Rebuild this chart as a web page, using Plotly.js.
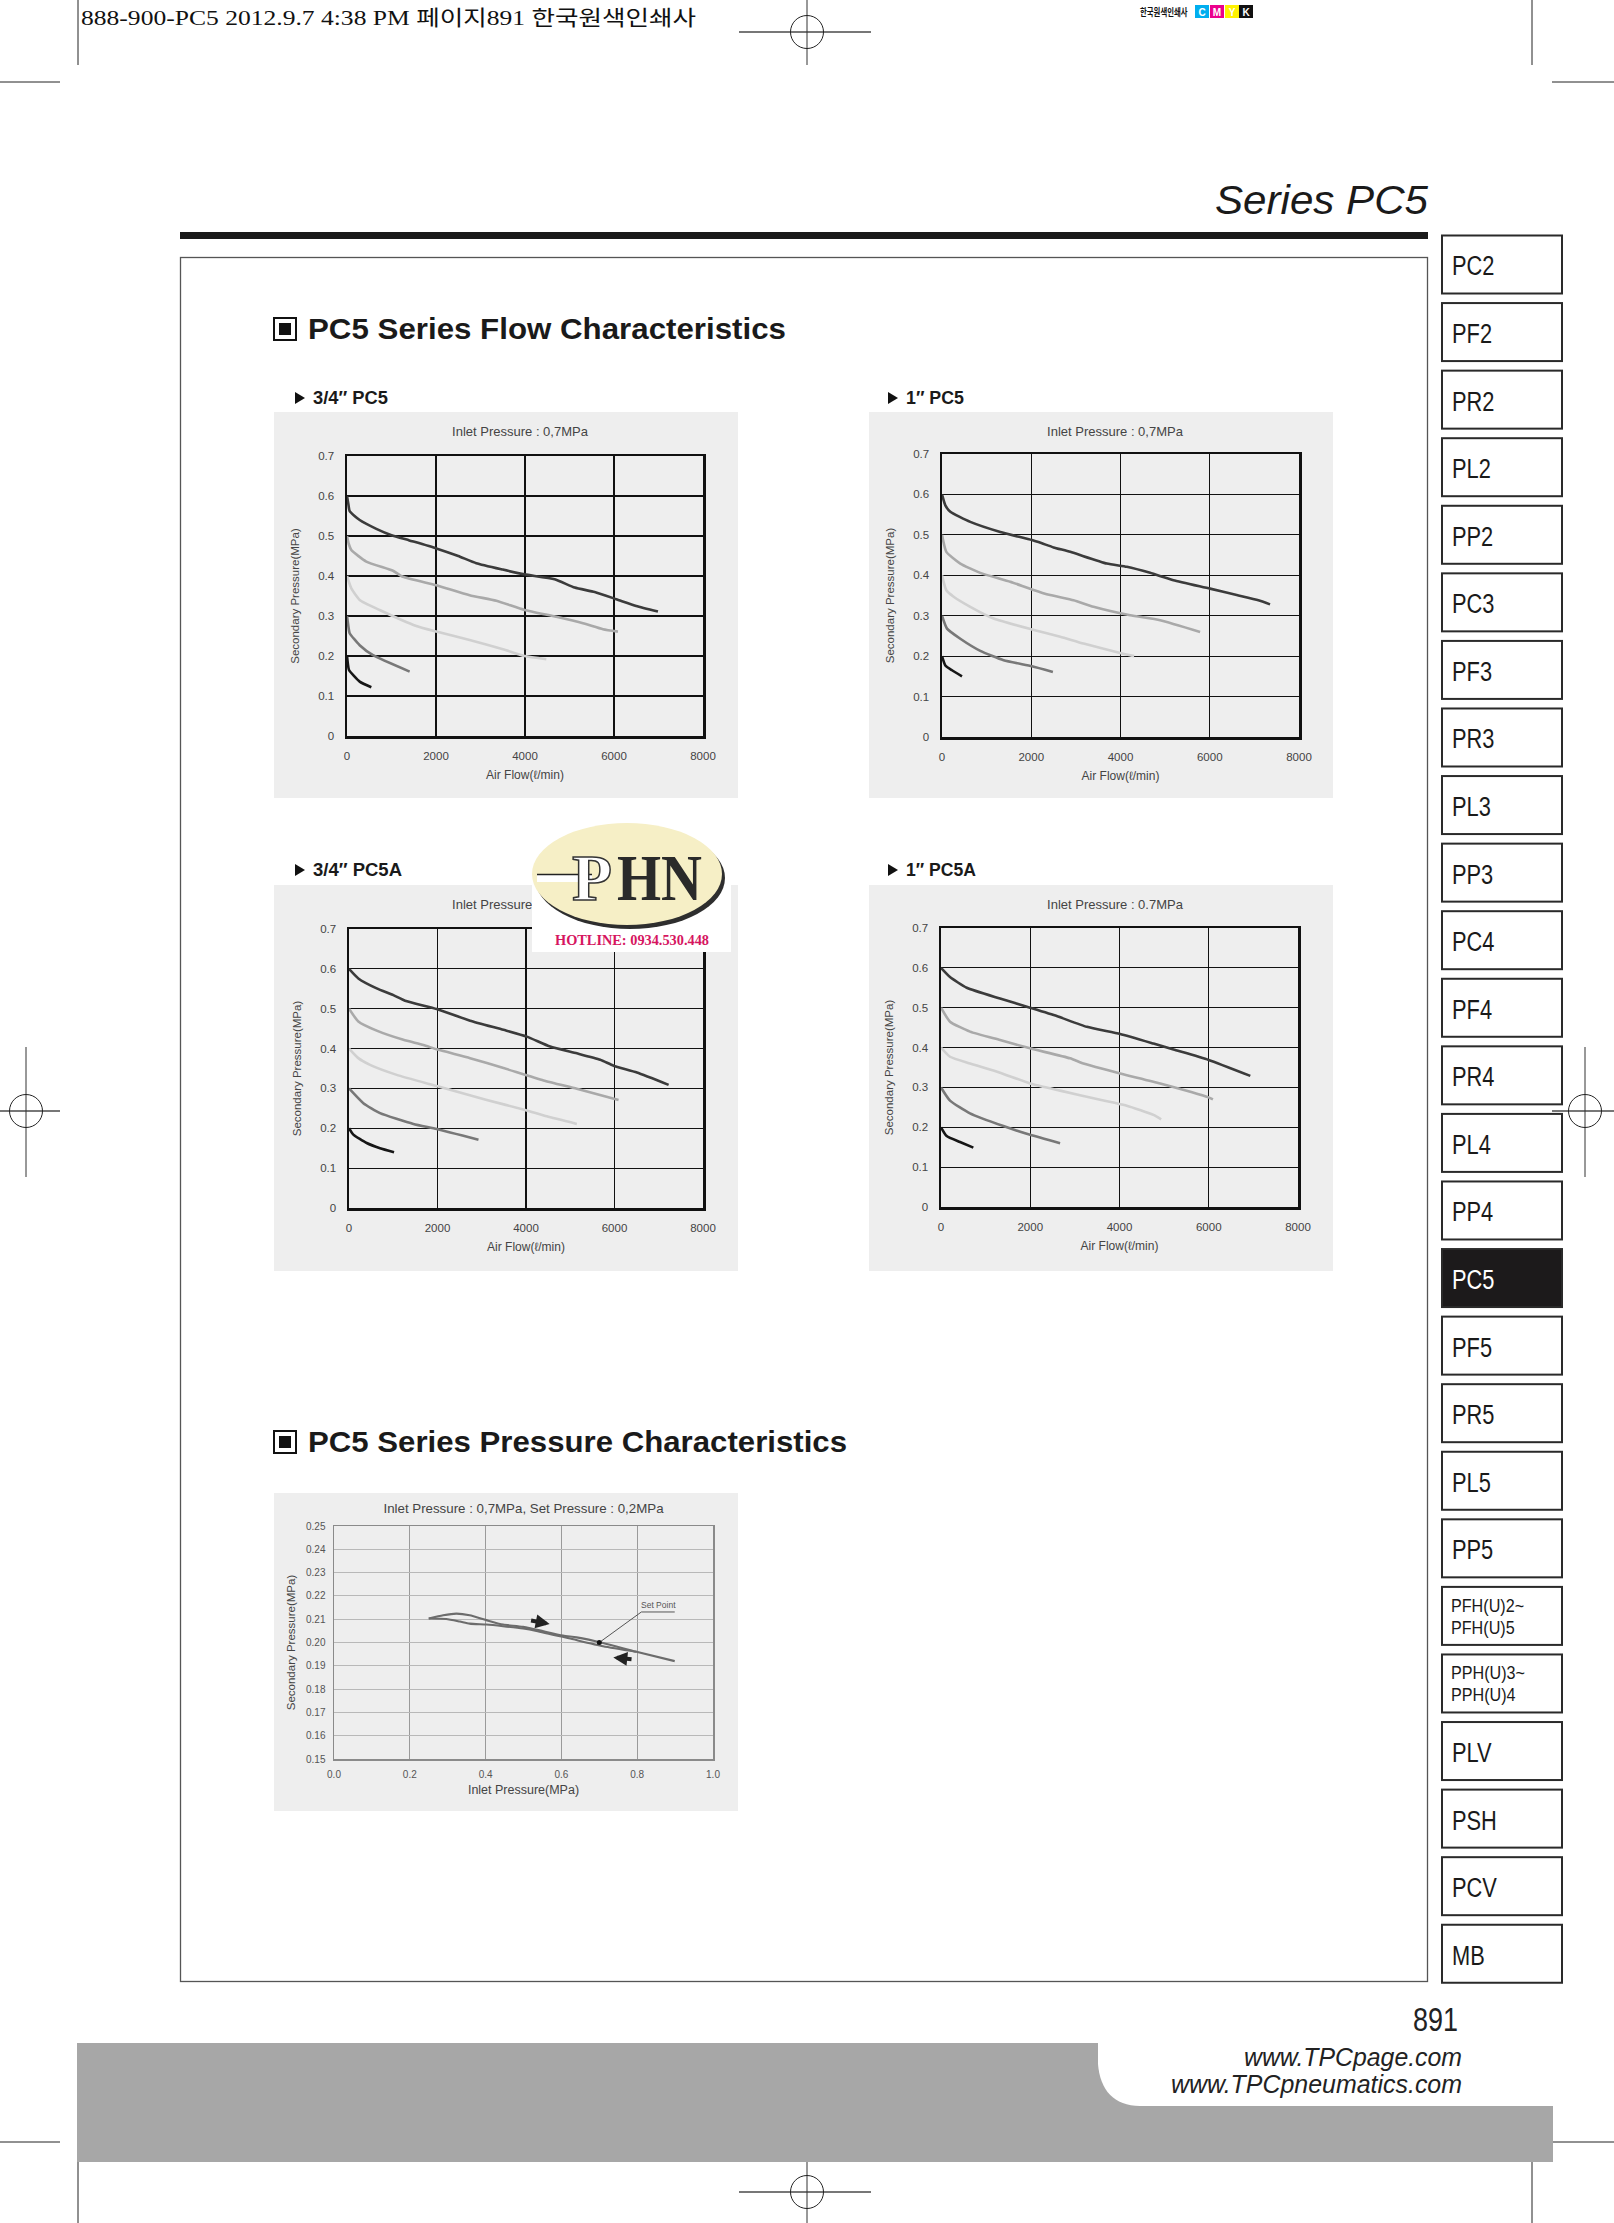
<!DOCTYPE html>
<html><head><meta charset="utf-8">
<script src="https://cdn.plot.ly/plotly-3.0.1.min.js"></script>
<style>
body{margin:0;background:#fff;}
#page{position:relative;width:1614px;height:2223px;overflow:hidden;background:#fff;font-family:"Liberation Sans",Arial,sans-serif;}
.chart{position:absolute;}
svg.ov{position:absolute;left:0;top:0;}
</style></head><body><div id="page">
<svg class="ov" id="deco" width="1614" height="2223"></svg>
<div id="c1" class="chart" style="left:274px;top:412px;width:464px;height:386px"></div>
<div id="c2" class="chart" style="left:869px;top:412px;width:464px;height:386px"></div>
<div id="c3" class="chart" style="left:274px;top:885px;width:464px;height:386px"></div>
<div id="c4" class="chart" style="left:869px;top:885px;width:464px;height:386px"></div>
<div id="c5" class="chart" style="left:274px;top:1493px;width:464px;height:318px"></div>
<svg class="ov" id="logo" width="1614" height="2223" style="pointer-events:none"></svg>
</div>
<script>
// ---------------- DATA ----------------
const curveNames = ['0.6 MPa', '0.5 MPa', '0.4 MPa', '0.3 MPa', '0.2 MPa'];
const flowTicks = [0, 2000, 4000, 6000, 8000];

// 3/4" PC5
const pc5_34_flow = [
  [0, 30, 60, 285, 659, 1000, 1400, 2007, 2500, 2906, 3500, 3992, 4666, 5116, 5565, 6052, 6500, 6988],
  [0, 40, 97, 434, 1034, 1258, 2007, 2756, 3356, 3992, 4703, 5303, 5752, 6089],
  [0, 97, 285, 734, 1558, 2007, 2756, 3505, 3992, 4479],
  [0, 30, 60, 285, 584, 1408],
  [0, 20, 45, 285, 547]
];
const pc5_34_pres = [
  [0.60, 0.58, 0.562, 0.540, 0.518, 0.502, 0.489, 0.469, 0.450, 0.432, 0.416, 0.404, 0.392, 0.371, 0.360, 0.342, 0.325, 0.311],
  [0.50, 0.48, 0.465, 0.436, 0.413, 0.398, 0.377, 0.352, 0.338, 0.315, 0.298, 0.282, 0.267, 0.261],
  [0.40, 0.369, 0.340, 0.315, 0.275, 0.261, 0.240, 0.217, 0.200, 0.192],
  [0.30, 0.275, 0.257, 0.227, 0.202, 0.161],
  [0.20, 0.18, 0.165, 0.136, 0.122]
];
// 1" PC5
const pc5_1_flow = [
  [0, 75, 187, 634, 1306, 2015, 2239, 2500, 2873, 3694, 4142, 4664, 5187, 6007, 6604, 7090, 7351],
  [0, 97, 410, 858, 1530, 2015, 2425, 2948, 3396, 4216, 4888, 5784],
  [0, 97, 261, 634, 1157, 2015, 2649, 3172, 3993, 4306],
  [0, 112, 410, 858, 1381, 2015, 2485],
  [0, 75, 224, 448]
];
const pc5_1_pres = [
  [0.60, 0.573, 0.557, 0.532, 0.507, 0.487, 0.479, 0.469, 0.458, 0.429, 0.421, 0.406, 0.388, 0.367, 0.351, 0.338, 0.328],
  [0.50, 0.458, 0.429, 0.406, 0.384, 0.365, 0.351, 0.338, 0.322, 0.301, 0.289, 0.260],
  [0.40, 0.363, 0.347, 0.322, 0.293, 0.266, 0.248, 0.231, 0.208, 0.200],
  [0.30, 0.268, 0.243, 0.213, 0.190, 0.175, 0.161],
  [0.20, 0.177, 0.165, 0.150]
];
// 3/4" PC5A
const pc5a_34_flow = [
  [0, 211, 626, 1003, 1267, 1983, 2737, 3491, 4018, 4546, 5149, 5677, 5979, 6507, 7223],
  [0, 211, 626, 1229, 1682, 1983, 2737, 3491, 4396, 5149, 6092],
  [0, 211, 475, 1078, 1983, 3114, 3981, 4471, 5149],
  [0, 324, 701, 1455, 1983, 2926],
  [0, 98, 400, 701, 1018]
];
const pc5a_34_pres = [
  [0.60, 0.576, 0.551, 0.534, 0.520, 0.499, 0.470, 0.447, 0.430, 0.405, 0.388, 0.372, 0.357, 0.340, 0.309],
  [0.50, 0.468, 0.445, 0.422, 0.409, 0.398, 0.376, 0.351, 0.320, 0.299, 0.271],
  [0.40, 0.376, 0.359, 0.334, 0.306, 0.271, 0.246, 0.230, 0.211],
  [0.30, 0.263, 0.238, 0.211, 0.198, 0.171],
  [0.20, 0.184, 0.163, 0.150, 0.140]
];
// 1" PC5A
const pc5a_1_flow = [
  [0, 202, 576, 1323, 1996, 2594, 3267, 4015, 4762, 5211, 5997, 6931],
  [0, 202, 650, 1323, 1996, 2893, 3192, 4015, 4912, 5997, 6094],
  [0, 202, 650, 1323, 1996, 2669, 3566, 4164, 4762, 4934],
  [0, 202, 650, 1398, 1996, 2669],
  [0, 127, 426, 725]
];
const pc5a_1_pres = [
  [0.60, 0.577, 0.550, 0.523, 0.500, 0.479, 0.452, 0.434, 0.410, 0.395, 0.369, 0.329],
  [0.50, 0.465, 0.440, 0.419, 0.398, 0.373, 0.360, 0.335, 0.310, 0.275, 0.270],
  [0.40, 0.377, 0.360, 0.337, 0.310, 0.292, 0.269, 0.254, 0.231, 0.220],
  [0.30, 0.267, 0.235, 0.203, 0.181, 0.160],
  [0.20, 0.178, 0.163, 0.149]
];
// Pressure characteristics
const inletUp = [0.25, 0.288, 0.323, 0.358, 0.402, 0.446, 0.499, 0.604, 0.64, 0.71, 0.798, 0.899];
const secUp   = [0.2103, 0.2117, 0.2124, 0.2117, 0.2096, 0.2077, 0.2067, 0.2030, 0.2022, 0.1998, 0.1960, 0.1920];
const inletDown = [0.798, 0.71, 0.62, 0.534, 0.499, 0.446, 0.402, 0.358, 0.332, 0.296, 0.25];
const secDown   = [0.1960, 0.1984, 0.2018, 0.2050, 0.2060, 0.2070, 0.2077, 0.2081, 0.2090, 0.2101, 0.2103];
const setPoint = [0.70, 0.200];
const setPointLeader = {x: [0.70, 0.811, 0.899], y: [0.200, 0.2131, 0.2131]};
const setPointLabel = {x: 0.857, y: 0.2163, text: 'Set Point'};
const arrowUp = {tail: [0.516, 0.2096], head: [0.569, 0.2079]};
const arrowDown = {tail: [0.789, 0.1927], head: [0.737, 0.1936]};

const tabLabels = ['PC2','PF2','PR2','PL2','PP2','PC3','PF3','PR3','PL3','PP3','PC4','PF4','PR4','PL4','PP4','PC5','PF5','PR5','PL5','PP5','PFH(U)2~|PFH(U)5','PPH(U)3~|PPH(U)4','PLV','PSH','PCV','MB'];
const activeTab = 'PC5';

// ---------------- STYLE ----------------
const FONT = '"Liberation Sans", Arial, sans-serif';
const curveColors = ['#3b3b3b', '#a9a9a9', '#d0d0d0', '#787878', '#161616'];
const PANEL = '#eeeeee';

function flowChart(id, xs, ys, m, title) {
  const traces = xs.map((x, i) => ({
    x: x, y: ys[i], name: curveNames[i], mode: 'lines', hoverinfo: 'skip',
    line: {color: curveColors[i], width: 2.6, shape: 'spline', smoothing: 0.5}
  }));
  const axBase = {
    showgrid: true, gridcolor: '#111', gridwidth: 1.2, showline: true, linecolor: '#111',
    linewidth: 2.5, mirror: true, zeroline: false, ticks: 'outside', ticklen: 8,
    tickcolor: 'rgba(0,0,0,0)', tickfont: {family: FONT, size: 11.5, color: '#444'}, fixedrange: true
  };
  const layout = {
    width: 464, height: 386, margin: m, paper_bgcolor: PANEL, plot_bgcolor: PANEL, showlegend: false,
    title: {text: title, font: {family: FONT, size: 13, color: '#444'}, xref: 'container', x: 246/464,
            xanchor: 'center', yref: 'container', y: 1 - 19/386, yanchor: 'middle'},
    xaxis: Object.assign({}, axBase, {range: [0, 8000], tickvals: flowTicks, tickformat: 'd',
      title: {text: 'Air Flow(ℓ/min)', font: {family: FONT, size: 12, color: '#444'}, standoff: 10}}),
    yaxis: Object.assign({}, axBase, {range: [0, 0.7], tick0: 0, dtick: 0.1,
      title: {text: 'Secondary Pressure(MPa)', font: {family: FONT, size: 11.5, color: '#444'}, standoff: 16}})
  };
  Plotly.newPlot(id, traces, layout, {staticPlot: true, displayModeBar: false});
}

flowChart('c1', pc5_34_flow, pc5_34_pres, {l: 73, r: 35, t: 44, b: 62}, 'Inlet Pressure : 0,7MPa');
flowChart('c2', pc5_1_flow, pc5_1_pres, {l: 73, r: 34, t: 42, b: 61}, 'Inlet Pressure : 0,7MPa');
flowChart('c3', pc5a_34_flow, pc5a_34_pres, {l: 75, r: 35, t: 44, b: 63}, 'Inlet Pressure : 0,7MPa');
flowChart('c4', pc5a_1_flow, pc5a_1_pres, {l: 72, r: 35, t: 43, b: 64}, 'Inlet Pressure : 0.7MPa');

(function pressureChart() {
  const lineC = '#6c6c6c';
  const traces = [
    {x: inletUp, y: secUp, mode: 'lines', hoverinfo: 'skip', line: {color: lineC, width: 2.1, shape: 'spline', smoothing: 0.6}},
    {x: inletDown, y: secDown, mode: 'lines', hoverinfo: 'skip', line: {color: lineC, width: 2.1, shape: 'spline', smoothing: 0.6}},
    {x: setPointLeader.x, y: setPointLeader.y, mode: 'lines', hoverinfo: 'skip', line: {color: '#555', width: 1}},
    {x: [setPoint[0]], y: [setPoint[1]], mode: 'markers', hoverinfo: 'skip', marker: {color: '#111', size: 5}}
  ];
  const axBase = {
    showline: true, linecolor: '#8a8a8a', linewidth: 1.5, mirror: true, zeroline: false,
    ticks: 'outside', ticklen: 5, tickcolor: 'rgba(0,0,0,0)',
    tickfont: {family: FONT, size: 10, color: '#555'}, fixedrange: true, showgrid: true
  };
  const arrow = (a) => ({x: a.head[0], y: a.head[1], ax: a.tail[0], ay: a.tail[1], axref: 'x', ayref: 'y',
    xref: 'x', yref: 'y', text: '', showarrow: true, arrowhead: 2, arrowsize: 0.7, arrowwidth: 4, arrowcolor: '#222'});
  const layout = {
    width: 464, height: 318, margin: {l: 60, r: 25, t: 33, b: 52}, paper_bgcolor: PANEL, plot_bgcolor: PANEL,
    showlegend: false,
    title: {text: 'Inlet Pressure : 0,7MPa, Set Pressure : 0,2MPa', font: {family: FONT, size: 13.3, color: '#444'},
            xref: 'paper', x: 0.5, xanchor: 'center', yref: 'container', y: 1 - 15/318, yanchor: 'middle'},
    xaxis: Object.assign({}, axBase, {range: [0, 1], tick0: 0, dtick: 0.2, tickformat: '.1f',
      gridcolor: '#9a9a9a', gridwidth: 1.2,
      title: {text: 'Inlet Pressure(MPa)', font: {family: FONT, size: 12.5, color: '#444'}, standoff: 6}}),
    yaxis: Object.assign({}, axBase, {range: [0.15, 0.25], tick0: 0.15, dtick: 0.01, tickformat: '.2f',
      gridcolor: '#b8b8b8', gridwidth: 1,
      title: {text: 'Secondary Pressure(MPa)', font: {family: FONT, size: 11.5, color: '#444'}, standoff: 8}}),
    annotations: [
      arrow(arrowUp), arrow(arrowDown),
      {x: setPointLabel.x, y: setPointLabel.y, xref: 'x', yref: 'y', text: setPointLabel.text, showarrow: false,
       font: {family: FONT, size: 8.5, color: '#555'}}
    ]
  };
  Plotly.newPlot('c5', traces, layout, {staticPlot: true, displayModeBar: false});
})();

// ---------------- PAGE DECORATION ----------------
const NS = 'http://www.w3.org/2000/svg';
function el(parent, tag, attrs, text) {
  const e = document.createElementNS(NS, tag);
  for (const k in attrs) e.setAttribute(k, attrs[k]);
  if (text !== undefined) e.textContent = text;
  parent.appendChild(e);
  return e;
}
const deco = document.getElementById('deco');

// crop marks
[[78,0,78,65],[1532,0,1532,65],[0,82,60,82],[1552,82,1614,82],
 [78,2160,78,2223],[1532,2160,1532,2223],[0,2142,60,2142],[1552,2142,1614,2142]].forEach(l =>
  el(deco, 'line', {x1: l[0], y1: l[1], x2: l[2], y2: l[3], stroke: '#222', 'stroke-width': 1}));
// registration marks
function reg(cx, cy, hx1, hx2, vy1, vy2) {
  el(deco, 'line', {x1: hx1, y1: cy, x2: hx2, y2: cy, stroke: '#777', 'stroke-width': 2});
  el(deco, 'line', {x1: cx, y1: vy1, x2: cx, y2: vy2, stroke: '#333', 'stroke-width': 1});
  el(deco, 'circle', {cx: cx, cy: cy, r: 16.5, fill: 'none', stroke: '#222', 'stroke-width': 1});
}
reg(807, 32, 739, 871, 0, 65);
reg(807, 2192, 739, 871, 2160, 2223);
reg(26, 1111, 0, 60, 1047, 1177);
reg(1585, 1111, 1552, 1614, 1047, 1177);

// top slug text
el(deco, 'text', {x: 81, y: 25, 'font-family': '"Liberation Serif","Noto Sans CJK KR",serif', 'font-size': 21,
  fill: '#111', textLength: 615, lengthAdjust: 'spacingAndGlyphs'}, '888-900-PC5  2012.9.7 4:38 PM  페이지891   한국원색인쇄사');
// CMYK mark
el(deco, 'text', {x: 0, y: 0, transform: 'translate(1140,16) scale(1,1.35)', 'font-family': '"Noto Sans CJK KR",sans-serif',
  'font-size': 7.4, 'font-weight': 'bold', fill: '#111'}, '한국원색인쇄사');
[['C','#00aeef',1195],['M','#ec008c',1210],['Y','#fff200',1225],['K','#111111',1239]].forEach(c => {
  el(deco, 'rect', {x: c[2], y: 5, width: 14, height: 13, fill: c[1]});
  el(deco, 'text', {x: c[2] + 7, y: 15.5, 'text-anchor': 'middle', 'font-family': FONT, 'font-size': 10,
    'font-weight': 'bold', fill: '#fff'}, c[0]);
});

// Series title + bar + frame
el(deco, 'text', {x: 1215, y: 214, 'font-family': FONT, 'font-size': 40, 'font-style': 'italic', fill: '#1a1a1a',
  textLength: 213, lengthAdjust: 'spacingAndGlyphs'}, 'Series PC5');
el(deco, 'rect', {x: 180, y: 232, width: 1248, height: 7, fill: '#1a1a1a'});
el(deco, 'rect', {x: 180.5, y: 257.5, width: 1247, height: 1724, fill: 'none', stroke: '#555', 'stroke-width': 1.3});

// section headings
function heading(y, text, w) {
  el(deco, 'rect', {x: 274, y: y - 21, width: 22, height: 22, fill: '#fff', stroke: '#111', 'stroke-width': 2});
  el(deco, 'rect', {x: 279, y: y - 16, width: 12, height: 12, fill: '#111'});
  el(deco, 'text', {x: 308, y: y, 'font-family': FONT, 'font-size': 30, 'font-weight': 'bold', fill: '#1a1a1a',
    textLength: w, lengthAdjust: 'spacingAndGlyphs'}, text);
}
heading(339, 'PC5 Series Flow Characteristics', 478);
heading(1452, 'PC5 Series Pressure Characteristics', 539);

function sub(x, y, text, w) {
  el(deco, 'polygon', {points: `${x},${y-12} ${x+10},${y-6} ${x},${y}`, fill: '#111'});
  el(deco, 'text', {x: x + 18, y: y, 'font-family': FONT, 'font-size': 18, 'font-weight': 'bold', fill: '#1a1a1a',
    textLength: w, lengthAdjust: 'spacingAndGlyphs'}, text);
}
sub(295, 404, '3/4″ PC5', 75);
sub(888, 404, '1″ PC5', 58);
sub(295, 876, '3/4″ PC5A', 89);
sub(888, 876, '1″ PC5A', 70);

// tabs
tabLabels.forEach((lab, i) => {
  const y = 235.5 + i * 67.57;
  const act = lab === activeTab;
  el(deco, 'rect', {x: 1442, y: y, width: 120, height: 58, fill: act ? '#1c1a1b' : '#fff', stroke: '#2a2a2a', 'stroke-width': 2});
  const col = act ? '#fff' : '#1a1a1a';
  const parts = lab.split('|');
  if (parts.length === 1) {
    el(deco, 'text', {x: 1452 / 0.78, y: y + 40, transform: 'scale(0.78,1)', 'font-family': FONT, 'font-size': 28, fill: col}, lab);
  } else {
    el(deco, 'text', {x: 1451 / 0.85, y: y + 25, transform: 'scale(0.85,1)', 'font-family': FONT, 'font-size': 19, fill: col}, parts[0]);
    el(deco, 'text', {x: 1451 / 0.85, y: y + 47, transform: 'scale(0.85,1)', 'font-family': FONT, 'font-size': 19, fill: col}, parts[1]);
  }
});

// footer
el(deco, 'text', {x: 1413, y: 2031, 'font-family': FONT, 'font-size': 34, fill: '#222', textLength: 45,
  lengthAdjust: 'spacingAndGlyphs'}, '891');
el(deco, 'rect', {x: 77, y: 2043, width: 1476, height: 119, fill: '#a7a7a7'});
el(deco, 'path', {d: 'M1098 2043 H1553 V2106 H1140 C1114 2106 1100 2090 1098 2064 Z', fill: '#fff'});
el(deco, 'text', {x: 1244, y: 2066, 'font-family': FONT, 'font-size': 25, 'font-style': 'italic', fill: '#222',
  textLength: 218, lengthAdjust: 'spacingAndGlyphs'}, 'www.TPCpage.com');
el(deco, 'text', {x: 1171, y: 2093, 'font-family': FONT, 'font-size': 25, 'font-style': 'italic', fill: '#222',
  textLength: 291, lengthAdjust: 'spacingAndGlyphs'}, 'www.TPCpneumatics.com');

// watermark logo
const logo = document.getElementById('logo');
el(logo, 'rect', {x: 532, y: 826, width: 199, height: 126, fill: '#fff'});
el(logo, 'ellipse', {cx: 630, cy: 878, rx: 95, ry: 51, fill: '#2e2e2e'});
el(logo, 'ellipse', {cx: 627, cy: 874, rx: 95, ry: 51, fill: '#f6efc6'});
el(logo, 'rect', {x: 537, y: 874, width: 55, height: 8, fill: '#fff'});
el(logo, 'line', {x1: 537, y1: 874.5, x2: 592, y2: 874.5, stroke: '#222', 'stroke-width': 1.5});
el(logo, 'text', {x: 572, y: 900, 'font-family': '"Liberation Serif",serif', 'font-size': 66,
  'font-weight': 'bold', fill: '#fff', stroke: '#333', 'stroke-width': 1.5, textLength: 40, lengthAdjust: 'spacingAndGlyphs'}, 'P');
el(logo, 'text', {x: 617, y: 900, 'font-family': '"Liberation Serif",serif', 'font-size': 66,
  'font-weight': 'bold', fill: '#2a2a2a', textLength: 85, lengthAdjust: 'spacingAndGlyphs'}, 'HN');
el(logo, 'text', {x: 555, y: 945, 'font-family': '"Liberation Serif",serif', 'font-size': 14, 'font-weight': 'bold',
  fill: '#d6155f', textLength: 154, lengthAdjust: 'spacingAndGlyphs'}, 'HOTLINE: 0934.530.448');
</script>
</body></html>
